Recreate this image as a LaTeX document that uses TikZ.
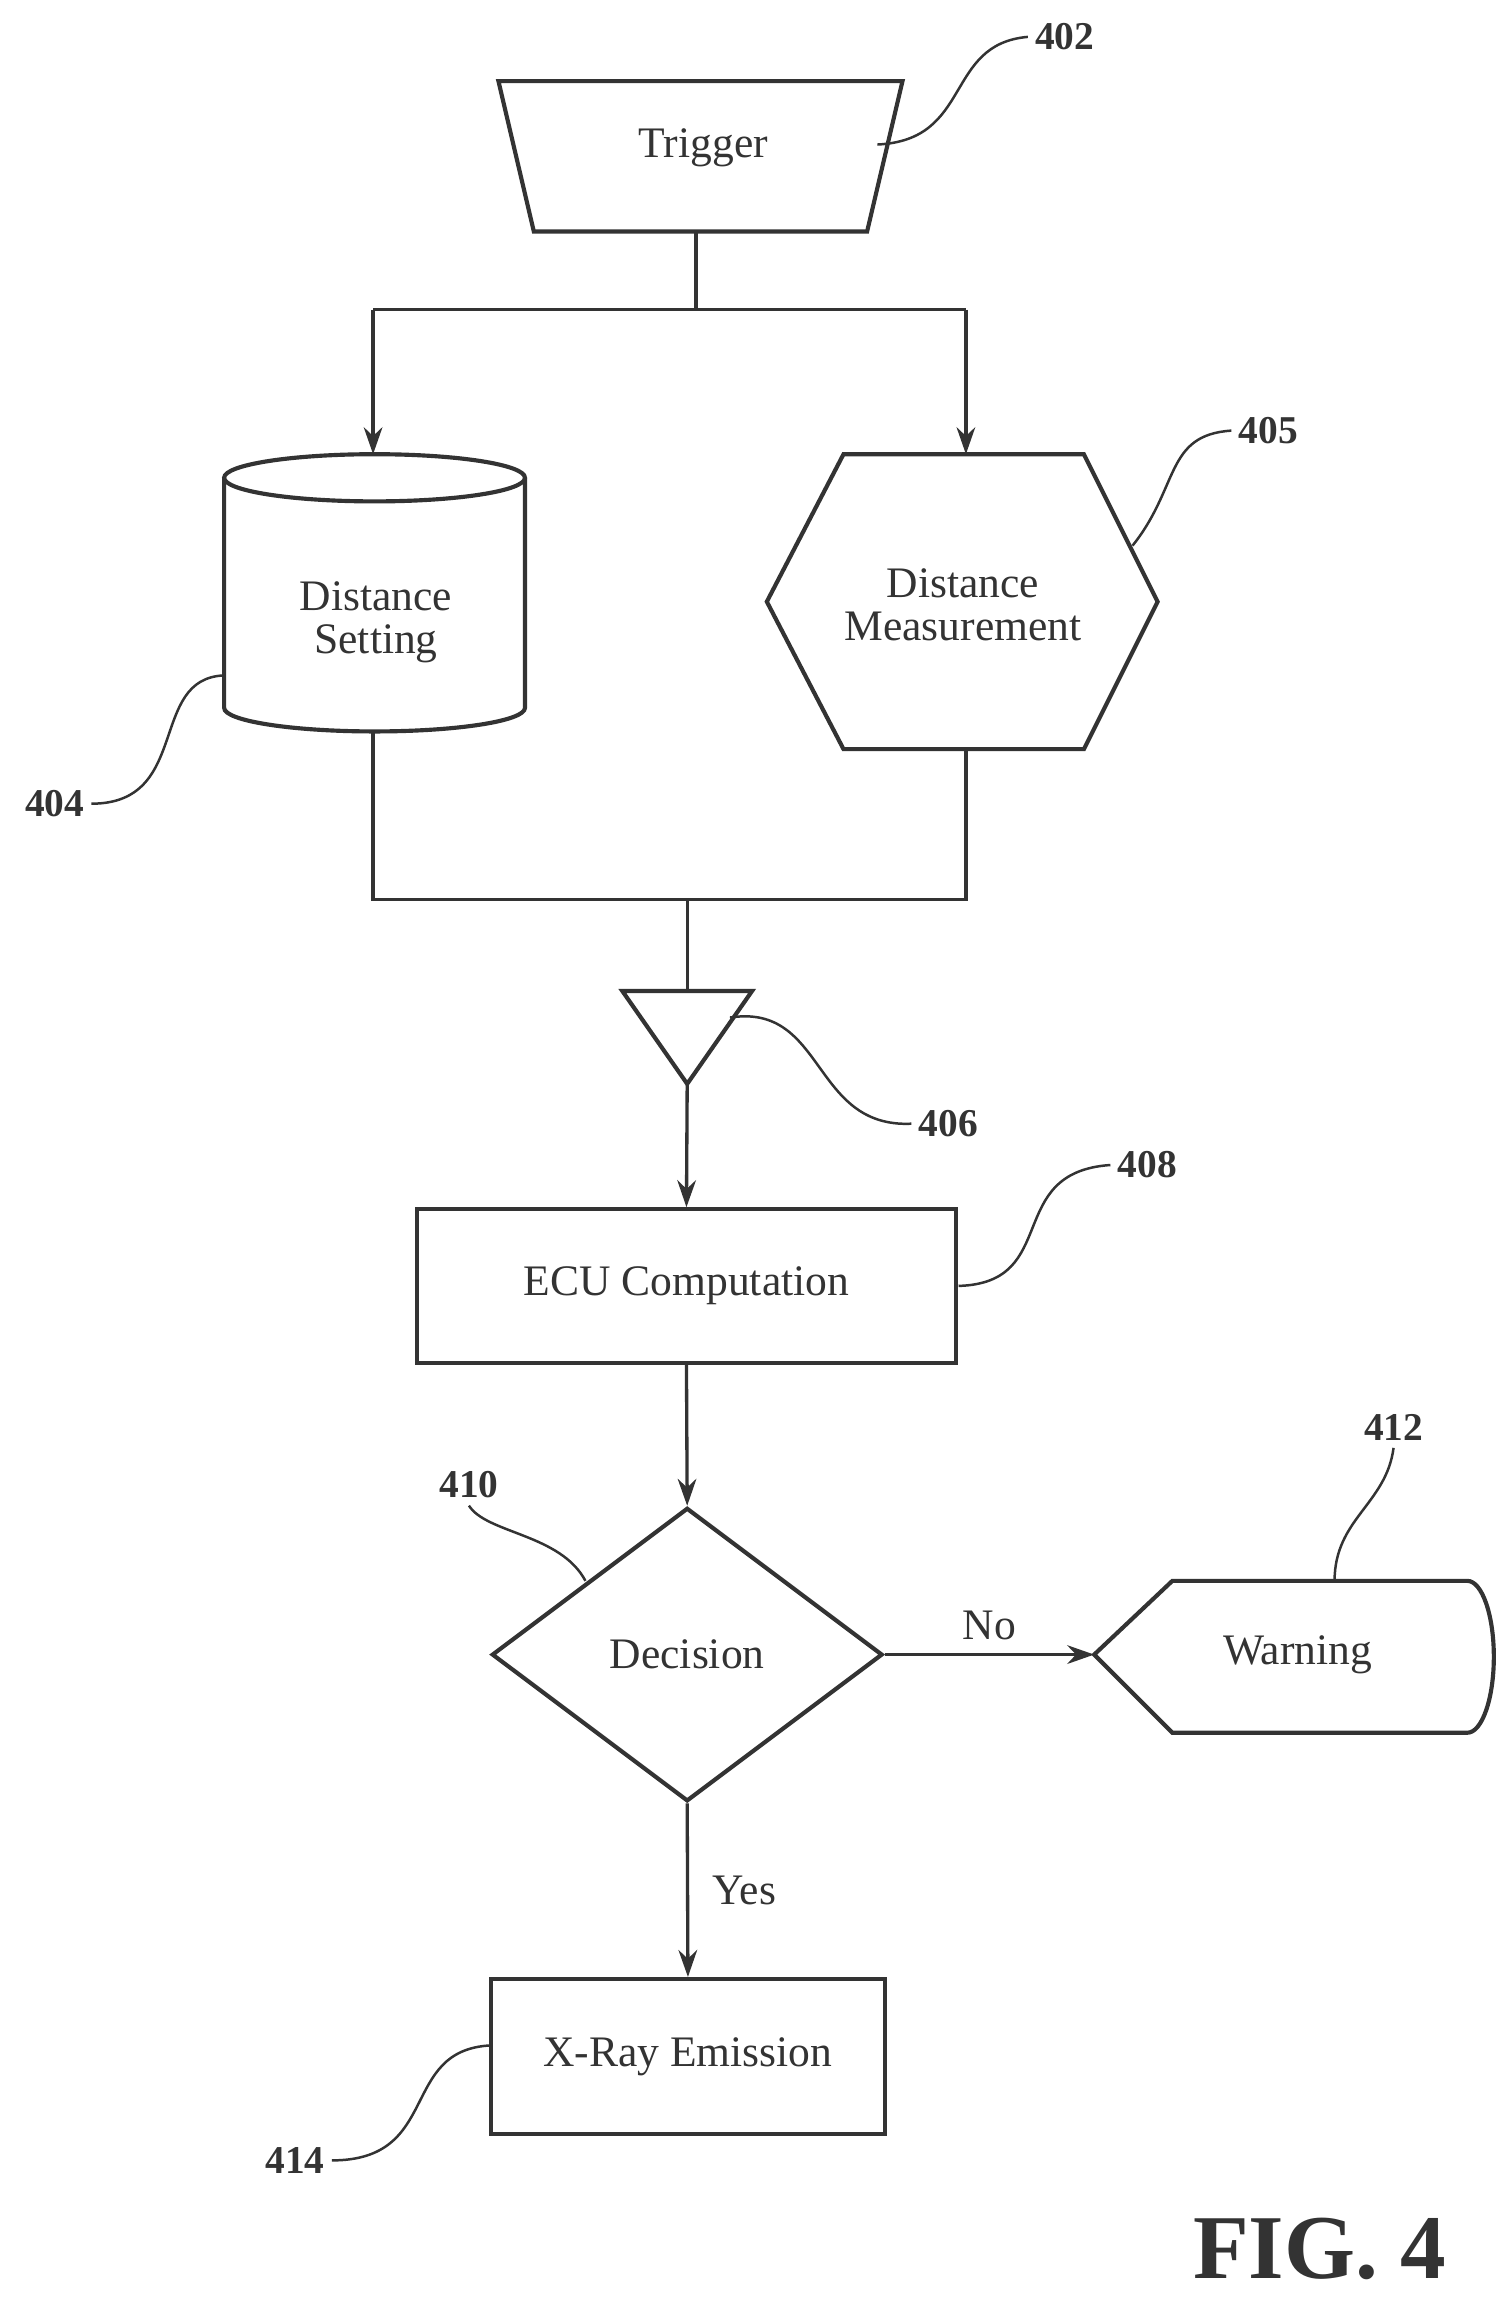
\documentclass[tikz,border=0pt]{standalone}
\usepackage{fontspec}
\setmainfont{Liberation Serif}
\usetikzlibrary{calc}
\usetikzlibrary{positioning}
\usetikzlibrary{shapes.geometric}
\usetikzlibrary{arrows.meta}
\definecolor{ink}{RGB}{51,51,51}
\tikzset{
	box/.style={draw=ink,line width=2pt,rectangle,inner sep=0pt},
	txt/.style={ink,font=\fontsize{21}{25}\selectfont,align=center},
	ref/.style={ink,font=\bfseries\fontsize{19}{22}\selectfont},
	lead/.style={draw=ink,line width=1.2pt},
	flow/.style={draw=ink,line width=1.6pt},
	arr/.style={flow,-{Stealth[length=13pt,width=9pt]}}
}
\begin{document}
\begin{tikzpicture}[x=0.025cm,y=-0.025cm]
	\useasboundingbox (0,0) rectangle (1024,1559);

	%%% Trigger
	\draw[box] (338,55) -- (612,55) -- (588,157) -- (362,157) -- cycle;
	\node[txt] (trigger) at (477,100) {Trigger};
	\coordinate (trig-s) at (472,157);
	\coordinate (split) at (472,210);
	\coordinate (split-l) at (253,210);
	\coordinate (split-r) at (655,210);

	%%% Distance setting (cylinder)
	\draw[box,fill=white] (152,324) -- (152,480) arc[start angle=180,end angle=0,x radius=102,y radius=16] -- (356,324);
	\draw[box] (254,324) ellipse[x radius=102,y radius=16];
	\node[txt] (setting) at (255,422) {Distance\\[-4pt]Setting};
	\coordinate (set-n) at (253,308);
	\coordinate (set-s) at (253,496);

	%%% Distance measurement (hexagon)
	\draw[box] (520,408) -- (572,308) -- (735,308) -- (785,408) -- (735,508) -- (572,508) -- cycle;
	\node[txt] (measure) at (653,410) {Distance\\[-4pt]Measurement};
	\coordinate (meas-n) at (655,308);
	\coordinate (meas-s) at (655,508);

	%%% Merge and triangle
	\coordinate (merge-l) at (253,610);
	\coordinate (merge-r) at (655,610);
	\coordinate (merge) at (466,610);
	\draw[box] (422,672) -- (510,672) -- (466,735) -- cycle;
	\coordinate (tri-n) at (466,672);
	\coordinate (tri-s) at (466,735);

	%%% ECU, decision, outputs
	\node[box,minimum width=365*0.025cm,minimum height=104*0.025cm] (ecu) at (465.5,872) {};
	\node[txt] at (ecu) {ECU Computation};
	\node[box,diamond,minimum width=265*0.025cm,minimum height=199*0.025cm] (decision) at (466,1122) {};
	\node[txt] at (decision) {Decision};
	\draw[box] (742,1122) -- (795,1072) -- (995,1072) arc[start angle=-90,end angle=90,x radius=18,y radius=51.5] -- (795,1175) -- cycle;
	\coordinate (warn-w) at (742,1122);
	\node[txt] (warning) at (880,1122) {Warning};
	\node[box,minimum width=267*0.025cm,minimum height=105*0.025cm] (xray) at (466.5,1394.5) {};
	\node[txt] at (xray) {X-Ray Emission};

	%%% Connectors
	\draw[flow] (trig-s) -- (split) (split-l) -- (split-r);
	\draw[arr] (split-l) -- (set-n);
	\draw[arr] (split-r) -- (meas-n);
	\draw[flow] (set-s) -- (merge-l) -- (merge-r) -- (meas-s);
	\draw[flow] (merge) -- (tri-n);
	\draw[arr] (tri-s) -- (ecu.north);
	\draw[arr] (ecu.south) -- (decision.north);
	\draw[arr] (decision.east) -- node[txt,above=3pt] {No} (warn-w);
	\draw[arr] (decision.south) -- node[txt,right=8pt] {Yes} (xray.north);

	%%% Reference numerals
	\node[ref] (n402) at (722,25) {402};
	\draw[lead] (595,98) .. controls (660,95) and (640,30) .. (n402.west);
	\node[ref] (n405) at (860,292) {405};
	\draw[lead] (768,370) .. controls (800,330) and (790,295) .. (n405.west);
	\node[ref] (n404) at (37,545) {404};
	\draw[lead] (n404.east) .. controls (130,545) and (100,460) .. (152,458);
	\node[ref] (n406) at (643,762) {406};
	\draw[lead] (495,690) .. controls (560,680) and (550,765) .. (n406.west);
	\node[ref] (n408) at (778,790) {408};
	\draw[lead] (650,872) .. controls (720,870) and (680,795) .. (n408.west);
	\node[ref] (n410) at (318,1007) {410};
	\draw[lead] (n410.south) .. controls (330,1040) and (380,1040) .. (397,1072);
	\node[ref] (n412) at (945,968) {412};
	\draw[lead] (905,1072) .. controls (905,1030) and (940,1020) .. (n412.south);
	\node[ref] (n414) at (200,1465) {414};
	\draw[lead] (n414.east) .. controls (300,1465) and (270,1390) .. (333,1387);

	\node[ink,font=\bfseries\fontsize{44}{48}\selectfont] (fig) at (895,1525) {FIG. 4};
\end{tikzpicture}
\end{document}
